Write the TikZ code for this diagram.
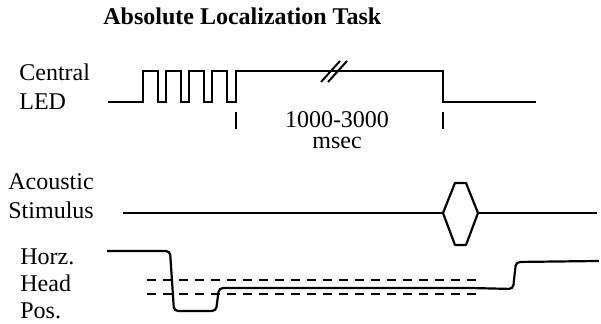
\documentclass[tikz,border=0pt]{standalone}
\usepackage{fontspec}
\setmainfont{Liberation Serif}
\tikzset{
  lbl/.style={anchor=base west, inner sep=0pt, font=\fontsize{12}{14}\selectfont},
  wave/.style={line width=1.1pt},
  tick/.style={line width=1.4pt},
  ref/.style={line width=1.1pt, dash pattern=on 4.5pt off 3.5pt}
}
\begin{document}
\begin{tikzpicture}[x=0.5pt,y=-0.5pt]
    \useasboundingbox (0,0) rectangle (601,324);

    \node[lbl, font=\fontsize{12}{14}\selectfont\bfseries] (title) at (103,25) {Absolute Localization Task};

    \node[lbl] (central) at (19,81) {Central};
    \node[lbl] (led) at (19,110) {LED};
    \node[lbl] (acoustic) at (8,190) {Acoustic};
    \node[lbl] (stimulus) at (8,219) {Stimulus};
    \node[lbl] (horz) at (20,265) {Horz.};
    \node[lbl] (head) at (20,292) {Head};
    \node[lbl] (pos) at (20,319) {Pos.};

    % central LED
    \coordinate (A) at (236,102);
    \coordinate (B) at (443,102);

    \draw[wave] (108,102) -- (143,102) -- (143,71) -- (158,71) -- (158,102)
      -- (166,102) -- (166,71) -- (181,71) -- (181,102)
      -- (189,102) -- (189,71) -- (204,71) -- (204,102)
      -- (212,102) -- (212,71) -- (227,71) -- (227,102)
      -- (A) -- (236,71) -- (443,71) -- (B) -- (536,102);

    \draw[tick] ([yshift=-5pt]A) -- ([yshift=-13.5pt]A);
    \draw[tick] ([yshift=-5pt]B) -- ([yshift=-13.5pt]B);

    \draw[line width=1pt] (321,82) -- (340,61);
    \draw[line width=1pt] (328,82) -- (347,61);

    \node[font=\fontsize{12}{10.5}\selectfont, inner sep=0pt, align=center, anchor=base] (range) at (337,149) {1000-3000\\msec};

    % acoustic stimulus
    \coordinate (P) at (443,213);
    \coordinate (Q) at (455,183);
    \coordinate (R) at (466,183);
    \coordinate (S) at (478,213);
    \coordinate (T) at (466,245);
    \coordinate (U) at (455,245);

    \draw[wave] (123,213) -- (P);
    \draw[wave, line join=round] (P) -- (Q) -- (R) -- (S) -- (T) -- (U) -- cycle;
    \draw[wave] (S) -- (597,213);

    % head position
    \draw[ref] (147,280) -- (476,280);
    \draw[ref] (147,294) -- (476,294);

    \draw[wave, rounded corners=2pt] (107,251) -- (170,251) -- (174,311) -- (216,311)
      -- (219,288) -- (470,288) -- (513,289) -- (516,262) -- (599,261);
  \end{tikzpicture}
\end{document}
